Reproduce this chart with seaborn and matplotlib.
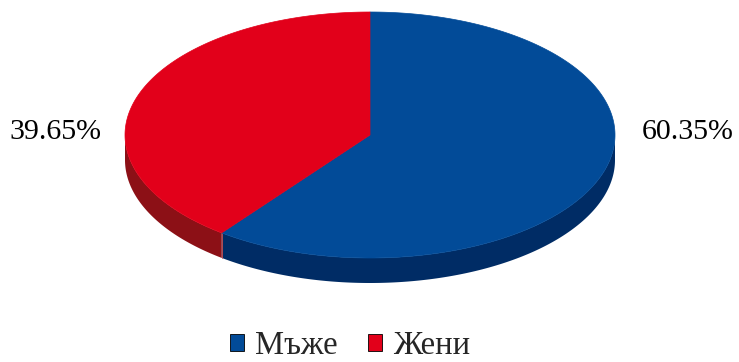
import numpy as np
import matplotlib
matplotlib.use("Agg")
import matplotlib.pyplot as plt
from matplotlib.patches import Polygon, Patch
import seaborn as sns

categories = ["Мъже", "Жени"]
values = [60.35, 39.65]
labels = ["60.35%", "39.65%"]
top_colors = ["#024b98", "#e2001a"]
side_colors = ["#002c65", "#8c1016"]

sns.set_theme(style="white")
plt.rcParams['font.family'] = ['Liberation Serif', 'DejaVu Serif']

fig = plt.figure(figsize=(7.39, 3.62), dpi=100)
ax = fig.add_axes([0, 0, 1, 1])
ax.set_xlim(0, 739)
ax.set_ylim(362, 0)
ax.axis('off')

cx, cy, rx, ry, depth = 370, 135, 245, 123, 25
total = sum(values)


def arc(a, b, dy=0, n=200):
    t = np.radians(np.linspace(a, b, n))
    return np.column_stack([cx + rx * np.sin(t), cy - ry * np.cos(t) + dy])


start = 0.0
spans = []
for v in values:
    end = start + v / total * 360
    spans.append((start, end))
    start = end

# side walls (front half only: 90..270 deg clockwise from top)
for (a, b), col in zip(spans, side_colors):
    s, e = max(a, 90), min(b, 270)
    if s < e:
        top = arc(s, e)
        bot = arc(s, e, depth)[::-1]
        ax.add_patch(Polygon(np.vstack([top, bot]), closed=True, facecolor=col,
                             edgecolor='none', zorder=1))
        if s == a:
            ax.plot([top[0, 0], top[0, 0]], [top[0, 1], top[0, 1] + depth],
                    color="#d05050", lw=0.6, zorder=1.5)

# top faces
for (a, b), col in zip(spans, top_colors):
    pts = np.vstack([[cx, cy], arc(a, b)])
    ax.add_patch(Polygon(pts, closed=True, facecolor=col, edgecolor=col,
                         lw=0.5, zorder=2))

# labels
for (a, b), lab in zip(spans, labels):
    mid = np.radians((a + b) / 2)
    side = 1 if np.sin(mid) > 0 else -1
    x = cx + side * (rx + 73) + (3 if side < 0 else 0)
    ax.text(x, cy - 3, lab, ha='center', va='center', fontsize=21.5,
            color='black', zorder=3)

handles = [Patch(facecolor=c, edgecolor='black', linewidth=0.6) for c in top_colors]
leg = ax.legend(handles, categories, loc='center',
                bbox_to_anchor=(350 / 739, 1 - 346 / 362), ncol=2, frameon=False,
                fontsize=23.5, handlelength=0.42, handleheight=0.42,
                handletextpad=0.34, columnspacing=0.95)

fig.savefig("out.png", dpi=100)
